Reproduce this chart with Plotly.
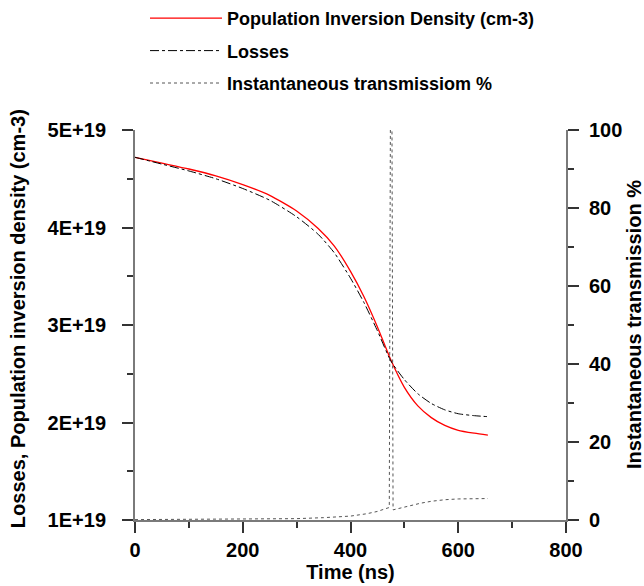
import plotly.graph_objects as go

# ---- data ----
time_ns = [0, 50, 100, 150, 200, 250, 300, 340, 370, 400, 425, 450, 475, 500, 525, 550, 575, 600, 630, 655]
population = [4.72e19, 4.66e19, 4.60e19, 4.53e19, 4.44e19, 4.33e19, 4.17e19, 3.99e19, 3.81e19, 3.55e19,
              3.29e19, 2.98e19, 2.64e19, 2.36e19, 2.17e19, 2.05e19, 1.97e19, 1.92e19, 1.89e19, 1.87e19]
losses = [4.72e19, 4.65e19, 4.58e19, 4.50e19, 4.40e19, 4.28e19, 4.11e19, 3.93e19, 3.74e19, 3.48e19,
          3.23e19, 2.94e19, 2.63e19, 2.44e19, 2.295e19, 2.195e19, 2.13e19, 2.09e19, 2.07e19, 2.06e19]

time_tr = [0, 100, 200, 300, 350, 400, 430, 450, 465, 472, 474, 477, 479, 490, 510, 530, 550, 575, 600, 630, 655]
transmission = [0.1, 0.15, 0.2, 0.35, 0.6, 1.0, 1.6, 2.2, 2.9, 3.2, 100, 100, 2.6, 3.0, 3.7, 4.3, 4.8, 5.2, 5.4, 5.5, 5.5]

left_tickvals = [1e19, 2e19, 3e19, 4e19, 5e19]
left_ticktext = ["1E+19", "2E+19", "3E+19", "4E+19", "5E+19"]
right_tickvals = [0, 20, 40, 60, 80, 100]
x_tickvals = [0, 200, 400, 600, 800]

left_title = "Losses, Population inversion density (cm-3)"
right_title = "Instantaneous transmission %"
x_title = "Time (ns)"

FONT = "Liberation Sans, Arial, Helvetica, sans-serif"
AXIS_COLOR = "#7a7a7a"

fig = go.Figure()
fig.add_trace(go.Scatter(x=time_ns, y=population, mode="lines",
                         line=dict(color="#ff0000", width=1.3, shape="spline", smoothing=0.6),
                         name="<b>Population Inversion Density (cm-3)</b>", legendgroup="a"))
fig.add_trace(go.Scatter(x=time_ns, y=losses, mode="lines",
                         line=dict(color="#000000", width=1, dash="dashdot", shape="spline", smoothing=0.6),
                         name="<b>Losses</b>", legendgroup="b"))
fig.add_trace(go.Scatter(x=time_tr, y=transmission, mode="lines", line=dict(color="#555555", width=1, dash="dot"),
                         name="<b>Instantaneous transmissiom %</b>", legendgroup="c", yaxis="y2"))

tickfont = dict(family=FONT, size=20, color="black", weight="bold")
titlefont = dict(family=FONT, size=20, color="black", weight="bold")

fig.update_layout(
    width=644, height=586,
    margin=dict(l=135, r=78, t=130, b=66, autoexpand=False),
    paper_bgcolor="white", plot_bgcolor="white",
    showlegend=True,
    legend=dict(x=145 / 644, y=1, xref="container", yref="container", xanchor="left", yanchor="top",
                font=dict(family=FONT, size=18, color="black"), itemwidth=72, tracegroupgap=6,
                bgcolor="rgba(0,0,0,0)", traceorder="grouped"),
    xaxis=dict(range=[0, 800], tickvals=x_tickvals, ticks="outside", ticklen=11, tickwidth=1.5, tickcolor="#333",
               showline=True, linecolor=AXIS_COLOR, linewidth=2, showgrid=False, zeroline=False,
               tickfont=tickfont, title=dict(text=x_title, font=titlefont, standoff=0),
               minor=dict(ticks="outside", ticklen=6, dtick=100, tickcolor="#333", tickwidth=1.5, showgrid=False)),
    yaxis=dict(range=[1e19, 5e19], tickvals=left_tickvals, ticktext=left_ticktext, ticks="outside", ticklen=11,
               tickwidth=1.5, tickcolor="#333", showline=True, linecolor=AXIS_COLOR, linewidth=2, showgrid=False,
               zeroline=False, tickfont=tickfont, ticklabelstandoff=12,
               minor=dict(ticks="outside", ticklen=6, dtick=0.5e19, tickcolor="#333", tickwidth=1.5, showgrid=False)),
    yaxis2=dict(range=[0, 100], tickvals=right_tickvals, overlaying="y", side="right", ticks="outside", ticklen=11,
                tickwidth=1.5, tickcolor="#333", showline=True, linecolor=AXIS_COLOR, linewidth=2, showgrid=False,
                zeroline=False, tickfont=tickfont, ticklabelstandoff=6,
                minor=dict(ticks="outside", ticklen=6, dtick=10, tickcolor="#333", tickwidth=1.5, showgrid=False)),
    annotations=[
        dict(text=left_title, xref="paper", yref="paper", x=(18 - 135) / 431, y=0.515, xanchor="center",
             yanchor="middle", textangle=-90, showarrow=False, font=titlefont),
        dict(text=right_title, xref="paper", yref="paper", x=(634 - 135) / 431, y=0.5, xanchor="center",
             yanchor="middle", textangle=-90, showarrow=False, font=titlefont),
    ],
)

fig.write_html("out.html")
